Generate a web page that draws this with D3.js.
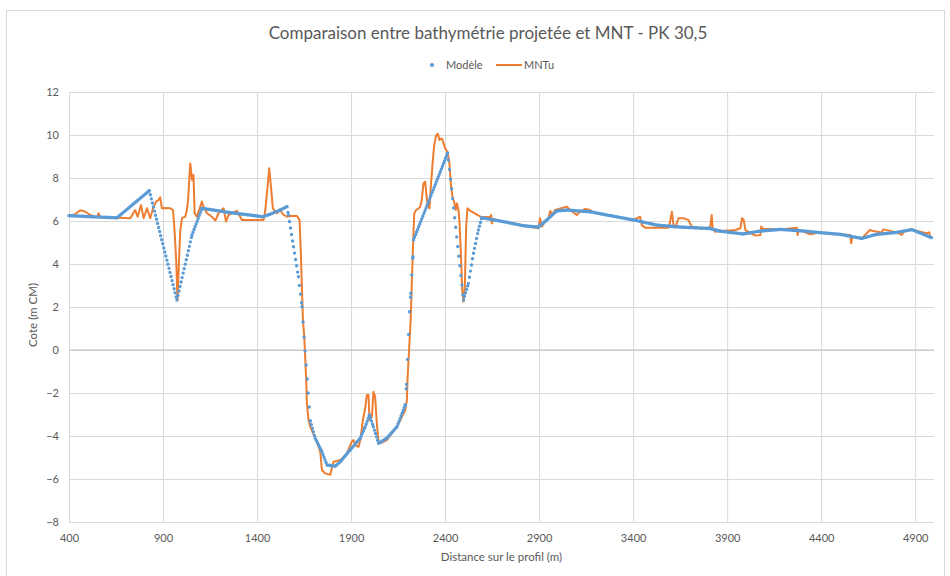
<!DOCTYPE html>
<html>
<head>
  <meta charset="utf-8">
  <script src="https://d3js.org/d3.v7.min.js"></script>
  <style type="text/css">
    body { margin: 0; background: #fff; }
    text { font-family: Lato, "Open Sans", sans-serif; }
  </style>
</head>
<body>
<svg id="chart" width="950" height="576"></svg>
<script>
  // Modèle (projected bathymetry)
  const modeleDist = [400, 520, 655, 827, 974, 1054, 1107, 1250, 1430, 1465, 1520, 1559, 1567, 1594, 1620, 1639, 1650, 1683,
    1709, 1745, 1772, 1816, 1843, 1895, 1949, 1975, 1998, 2019, 2046, 2090, 2144, 2188, 2195, 2211, 2218, 2223, 2229, 2232,
    2413, 2418, 2498, 2524, 2551, 2577, 2595, 2710, 2817, 2896, 2941, 2994, 3047, 3171, 3278, 3401, 3526, 3667, 3800, 3862,
    3986, 4075, 4181, 4287, 4394, 4500, 4616, 4695, 4802, 4882, 4988];
  const modeleCote = [6.25, 6.2, 6.15, 7.41, 2.33, 5.35, 6.59, 6.4, 6.2, 6.3, 6.5, 6.67, 6.28, 4.8, 3.41, 2.01, 0.6, -3.3,
    -4.1, -4.73, -5.35, -5.4, -5.2, -4.65, -4.1, -3.57, -3.02, -3.57, -4.34, -4.1, -3.57, -2.56, -1.6, 1.78, 2.64, 3.49, 4.34, 5.12,
    9.15, 8.84, 2.33, 3.1, 4.5, 5.58, 6.15, 5.97, 5.78, 5.72, 6.05, 6.47, 6.51, 6.43, 6.25, 6.05, 5.81, 5.71, 5.66, 5.53,
    5.4, 5.53, 5.61, 5.55, 5.46, 5.38, 5.19, 5.38, 5.47, 5.6, 5.22];

  // MNTu (terrain model)
  const mntDist = [400, 430, 460, 487, 513, 549, 557, 566, 593, 655, 726, 752, 765, 783, 797, 815, 832, 850, 864, 876, 885, 894,
    912, 939, 953, 960, 970, 977, 985, 992, 1001, 1018, 1027, 1033, 1045, 1054, 1062, 1068, 1080, 1107, 1116, 1134, 1160, 1178,
    1195, 1222, 1235, 1248, 1293, 1320, 1364, 1435, 1444, 1456, 1465, 1474, 1484, 1506, 1523, 1541, 1559, 1576, 1612, 1626,
    1633, 1639, 1644, 1651, 1656, 1662, 1665, 1674, 1683, 1718, 1736, 1745, 1762, 1789, 1798, 1807, 1843, 1878, 1904, 1913,
    1922, 1940, 1949, 1963, 1975, 1984, 1993, 1998, 2011, 2019, 2028, 2037, 2046, 2055, 2090, 2144, 2188, 2197, 2200, 2217,
    2228, 2236, 2246, 2267, 2276, 2285, 2294, 2299, 2307, 2317, 2324, 2335, 2342, 2353, 2362, 2370, 2383, 2392, 2400, 2413,
    2423, 2432, 2441, 2448, 2457, 2463, 2471, 2476, 2484, 2491, 2498, 2505, 2512, 2519, 2533, 2569, 2595, 2640, 2645, 2649,
    2657, 2710, 2817, 2896, 2905, 2914, 2926, 2950, 2959, 2968, 2985, 3047, 3065, 3100, 3118, 3145, 3171, 3189, 3278, 3401,
    3437, 3446, 3464, 3526, 3588, 3597, 3606, 3615, 3625, 3641, 3667, 3694, 3712, 3756, 3809, 3818, 3823, 3836, 3862, 3944,
    3970, 3979, 3988, 3997, 4050, 4077, 4081, 4093, 4119, 4181, 4270, 4275, 4280, 4341, 4394, 4500, 4554, 4560, 4565, 4616,
    4659, 4677, 4722, 4730, 4802, 4828, 4840, 4882, 4961, 4975, 4980, 4990];
  const mntCote = [6.25, 6.3, 6.5, 6.43, 6.28, 6.17, 6.36, 6.2, 6.15, 6.15, 6.13, 6.51, 6.2, 6.74, 6.13, 6.59, 6.13, 6.67, 6.9, 6.98, 7.1, 6.59,
    6.6, 6.59, 6.51, 5.74, 4.19, 2.3, 4.19, 5.58, 6.13, 6.2, 6.51, 6.98, 8.68, 7.91, 8.14, 6.36, 6.2, 6.9, 6.64, 6.36, 6.2, 6.02,
    6.36, 6.59, 5.97, 6.28, 6.47, 6.05, 6.05, 6.05, 6.51, 7.6, 8.45, 7.6, 6.59, 6.36, 6.51, 6.28, 6.2, 6.23, 6.23, 6.05,
    4.5, 2.79, 1.4, 0.62, -0.31, -1.55, -2.48, -3.26, -3.57, -4.26, -4.73, -5.58, -5.74, -5.81, -5.5, -5.2, -5.12, -4.81, -4.26, -4.19,
    -4.42, -4.5, -4.19, -3.26, -2.71, -2.09, -2.09, -3.26, -3.1, -1.94, -2.17, -3.41, -4.26, -4.34, -4.19, -3.57, -2.79, -2.33, -1.4, 1.4,
    4.5, 6.36, 6.51, 6.64, 6.98, 7.75, 7.83, 7.36, 6.74, 6.59, 7.6, 8.84, 9.53, 10.0, 10.05, 9.77, 9.84, 9.61, 9.38, 9.22,
    8.68, 7.6, 7.05, 6.9, 6.51, 6.82, 6.51, 6.05, 4.5, 2.79, 2.25, 2.94, 5.74, 6.59, 6.48, 6.3, 6.17, 6.2, 6.28, 5.89,
    6.1, 5.97, 5.78, 5.66, 6.13, 5.74, 5.89, 6.13, 6.47, 6.28, 6.51, 6.67, 6.51, 6.28, 6.43, 6.56, 6.51, 6.4, 6.25, 6.05,
    6.2, 5.81, 5.69, 5.69, 5.69, 5.97, 6.43, 5.81, 5.7, 6.13, 6.13, 6.05, 5.74, 5.65, 5.66, 6.28, 5.66, 5.5, 5.53, 5.58,
    5.66, 6.13, 6.05, 5.58, 5.32, 5.35, 5.74, 5.63, 5.63, 5.61, 5.69, 5.35, 5.6, 5.38, 5.46, 5.38, 5.35, 4.96, 5.27, 5.19,
    5.58, 5.53, 5.47, 5.61, 5.47, 5.35, 5.5, 5.6, 5.43, 5.47, 5.27, 5.25];

  const xTicks = [400, 900, 1400, 1900, 2400, 2900, 3400, 3900, 4400, 4900];
  const yTicks = [-8, -6, -4, -2, 0, 2, 4, 6, 8, 10, 12];

  const blue = '#5B9BD5';
  const orange = '#ED7D31';
  const grey = '#595959';

  const svg = d3.select('#chart');
  const plot = { left: 69, right: 934, top: 92, bottom: 522 };

  const x = d3.scaleLinear().domain([400, 5000]).range([plot.left, plot.right]);
  const y = d3.scaleLinear().domain([-8, 12]).range([plot.bottom, plot.top]);

  // chart area frame
  svg.append('rect')
    .attr('x', 6.5).attr('y', 10.5)
    .attr('width', 938).attr('height', 580)
    .attr('fill', '#fff')
    .attr('stroke', '#d9d9d9');

  // horizontal gridlines + y labels
  const yAxis = svg.append('g')
    .attr('transform', `translate(${plot.left},0)`)
    .call(d3.axisLeft(y).tickValues(yTicks).tickSize(-(plot.right - plot.left)).tickPadding(10));
  yAxis.select('.domain').remove();
  yAxis.selectAll('line').attr('stroke', '#d9d9d9');
  yAxis.selectAll('text').attr('fill', grey).style('font-size', '11px');

  // vertical gridlines + x labels
  const xAxis = svg.append('g')
    .attr('transform', `translate(0,${plot.bottom})`)
    .call(d3.axisBottom(x).tickValues(xTicks).tickFormat(d3.format('d'))
      .tickSize(-(plot.bottom - plot.top)).tickPadding(12));
  xAxis.select('.domain').remove();
  xAxis.selectAll('line').attr('stroke', '#d9d9d9');
  xAxis.selectAll('text').attr('fill', grey).style('font-size', '11px');

  // horizontal axis line at 0
  svg.append('line')
    .attr('x1', plot.left).attr('x2', plot.right)
    .attr('y1', y(0)).attr('y2', y(0))
    .attr('stroke', '#bfbfbf');

  // MNTu line
  const mnt = mntDist.map((d, i) => ({ d: d, v: mntCote[i] }));
  const line = d3.line().x(p => x(p.d)).y(p => y(p.v));
  svg.append('path')
    .datum(mnt)
    .attr('fill', 'none')
    .attr('stroke', orange)
    .attr('stroke-width', 2)
    .attr('stroke-linejoin', 'round')
    .attr('d', line);

  // Modèle markers: dotted stroke, one dot every ~5.5 m of distance
  const modele = modeleDist.map((d, i) => ({ d: d, v: modeleCote[i] }));
  const stepPx = x(405.5) - x(400);
  const dots = svg.append('g');
  d3.pairs(modele).forEach(([a, b]) => {
    const dx = x(b.d) - x(a.d);
    const len = Math.hypot(dx, y(b.v) - y(a.v));
    dots.append('path')
      .attr('d', line([a, b]))
      .attr('fill', 'none')
      .attr('stroke', blue)
      .attr('stroke-width', 3.4)
      .attr('stroke-linecap', 'round')
      .attr('stroke-dasharray', `0 ${stepPx * len / dx}`);
  });

  // title
  svg.append('text')
    .attr('x', 488).attr('y', 39)
    .attr('text-anchor', 'middle')
    .attr('fill', grey)
    .style('font-size', '17px')
    .text('Comparaison entre bathymétrie projetée et MNT - PK 30,5');

  // legend
  const legend = svg.append('g').attr('transform', 'translate(0,65)');
  legend.append('circle').attr('cx', 432).attr('cy', 0).attr('r', 2).attr('fill', blue);
  legend.append('text').attr('x', 446).attr('y', 4).attr('fill', grey).style('font-size', '11px').text('Modèle');
  legend.append('line').attr('x1', 496).attr('x2', 522).attr('y1', 0).attr('y2', 0)
    .attr('stroke', orange).attr('stroke-width', 2);
  legend.append('text').attr('x', 524).attr('y', 4).attr('fill', grey).style('font-size', '11px').text('MNTu');

  // axis titles
  svg.append('text')
    .attr('x', (plot.left + plot.right) / 2).attr('y', 561)
    .attr('text-anchor', 'middle')
    .attr('fill', grey)
    .style('font-size', '11.5px')
    .text('Distance sur le profil (m)');

  svg.append('text')
    .attr('transform', `translate(37,315) rotate(-90)`)
    .attr('text-anchor', 'middle')
    .attr('fill', grey)
    .style('font-size', '11.5px')
    .text('Cote (m CM)');
</script>
</body>
</html>
